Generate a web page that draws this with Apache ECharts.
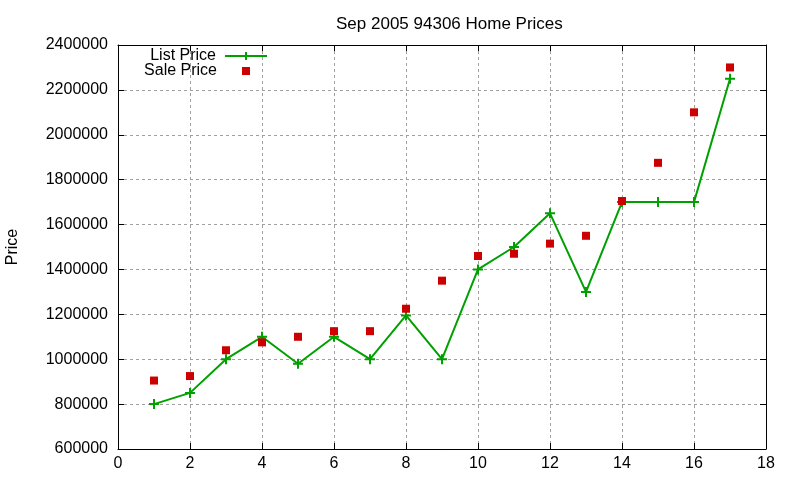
<!DOCTYPE html>
<html>
<head>
<meta charset="utf-8">
<script src="https://cdn.jsdelivr.net/npm/echarts@6/dist/echarts.min.js"></script>
<style>
  html, body { margin: 0; padding: 0; background: #fff; }
  #chart { width: 800px; height: 480px; }
</style>
</head>
<body>
<div id="chart"></div>
<script>
// month index (x) for each listing
var houseIndex = [1, 2, 3, 4, 5, 6, 7, 8, 9, 10, 11, 12, 13, 14, 15, 16, 17];
var listPrice = [800000, 850000, 1000000, 1100000, 980000, 1100000, 1000000, 1195000, 1000000,
                 1400000, 1500000, 1650000, 1300000, 1700000, 1700000, 1700000, 2250000];
var salePrice = [905000, 925000, 1040000, 1075000, 1100000, 1125000, 1125000, 1225000, 1350000,
                 1460000, 1470000, 1515000, 1550000, 1705000, 1875000, 2100000, 2300000];

var FONT = 'Liberation Sans, Arial, sans-serif';
var GREEN = '#00a000';
var RED = '#cc0000';
var plusIcon = 'path://M4,0h2v10h-2zM0,4h10v2h-10z';

function pairs(xs, ys) {
  var out = [];
  for (var i = 0; i < xs.length; i++) out.push([xs[i], ys[i]]);
  return out;
}

var tickBase = { show: true, inside: true, length: 6, lineStyle: { color: '#000' } };
var lineBase = { show: true, onZero: false, lineStyle: { color: '#000', width: 1 } };
var gridLine = { show: true, lineStyle: { color: '#a0a0a0', type: [3, 3], width: 1 } };

var myChart = echarts.init(document.getElementById('chart'));
myChart.setOption({
  backgroundColor: '#fff',
  animation: false,
  textStyle: { fontFamily: FONT },
  title: {
    text: 'Sep 2005 94306 Home Prices',
    left: 331, top: 11,
    textStyle: { fontFamily: FONT, fontSize: 17, fontWeight: 'normal', color: '#000' }
  },
  legend: [
    {
      data: [{ name: 'List Price', icon: 'path://M0,3h42v2h-42zM20,0h2v8h-2z' }],
      right: 533, top: 48, padding: 0, align: 'right',
      itemWidth: 42, itemHeight: 8,
      textStyle: { fontFamily: FONT, fontSize: 16, color: '#000', padding: [0, 4, 0, 0] }
    },
    {
      data: [{ name: 'Sale Price', icon: 'rect' }],
      right: 550, top: 63, padding: 0, align: 'right',
      itemWidth: 8, itemHeight: 8,
      textStyle: { fontFamily: FONT, fontSize: 16, color: '#000', padding: [0, 20, 0, 0] }
    }
  ],
  grid: { left: 118, right: 34, top: 45, bottom: 31, outerBoundsMode: 'none', containLabel: false },
  xAxis: [
    {
      type: 'value', min: 0, max: 18, interval: 2,
      axisLine: lineBase, axisTick: tickBase, splitLine: gridLine,
      axisLabel: { color: '#000', fontSize: 16, fontFamily: FONT, margin: 7 }
    },
    {
      type: 'value', position: 'top', min: 0, max: 18, interval: 2,
      axisLine: lineBase, axisTick: tickBase, splitLine: { show: false },
      axisLabel: { show: false }
    }
  ],
  yAxis: [
    {
      type: 'value', min: 600000, max: 2400000, interval: 200000,
      name: 'Price', nameLocation: 'middle', nameGap: 97, nameRotate: 90,
      nameTextStyle: { fontFamily: FONT, fontSize: 16, color: '#000' },
      axisLine: lineBase, axisTick: tickBase, splitLine: gridLine,
      axisLabel: {
        color: '#000', fontSize: 16, fontFamily: FONT, margin: 10,
        formatter: function (v) { return String(v); }
      }
    },
    {
      type: 'value', position: 'right', min: 600000, max: 2400000, interval: 200000,
      axisLine: lineBase, axisTick: tickBase, splitLine: { show: false },
      axisLabel: { show: false }
    }
  ],
  series: [
    {
      name: 'List Price', type: 'line',
      data: pairs(houseIndex, listPrice),
      color: GREEN,
      symbol: plusIcon, symbolSize: 10, showAllSymbol: true,
      lineStyle: { color: GREEN, width: 2 },
      itemStyle: { color: GREEN },
      z: 3
    },
    {
      name: 'Sale Price', type: 'scatter',
      data: pairs(houseIndex, salePrice),
      color: RED,
      symbol: 'rect', symbolSize: 8,
      itemStyle: { color: RED, opacity: 1 },
      z: 4
    }
  ]
});
</script>
</body>
</html>
